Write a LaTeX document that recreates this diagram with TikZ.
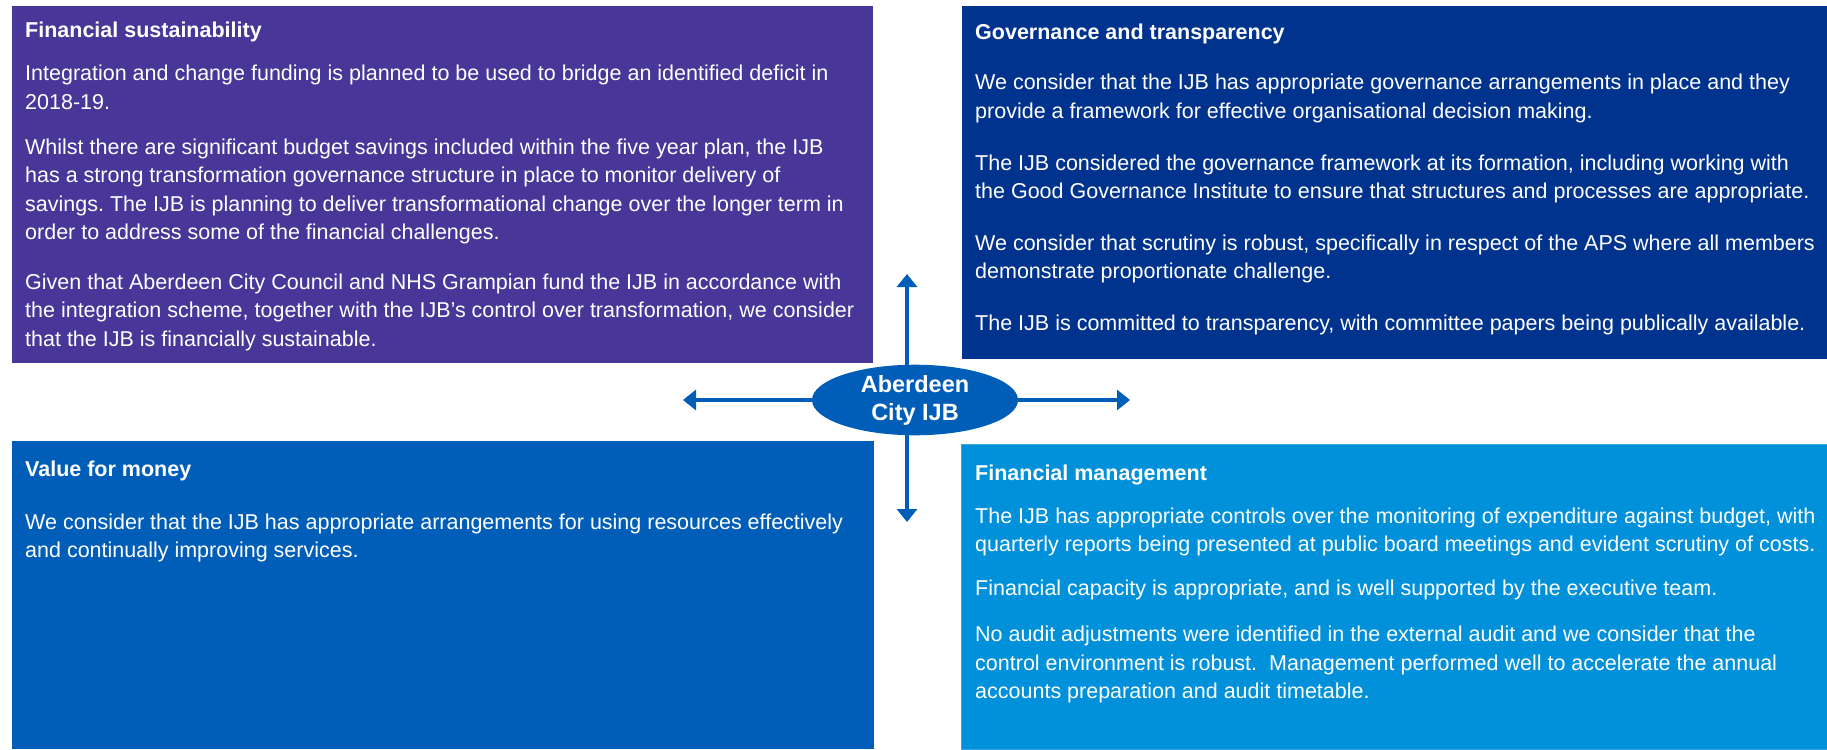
\documentclass[tikz,border=0pt]{standalone}
\usepackage{fontspec}
\setmainfont{Liberation Sans}
\usetikzlibrary{arrows.meta,shapes.geometric}
\frenchspacing

\definecolor{kviolet}{HTML}{483698}
\definecolor{kdark}{HTML}{00338D}
\definecolor{kmedium}{HTML}{005EB8}
\definecolor{klight}{HTML}{0091DA}
\definecolor{klightedge}{HTML}{3AA6E0}

% multi-line text nodes are placed by the baseline of their last line
\tikzset{
  panel/.style={anchor=north west, inner sep=0pt, outer sep=0pt, draw=none},
  headtext/.style={anchor=base west, inner sep=0pt, text=white,
    font=\bfseries\fontsize{21.5}{28.4}\selectfont},
  bodytext/.style={anchor=base west, inner sep=0pt, text=white, align=left,
    font=\fontsize{21.5}{28.4}\selectfont},
  hub/.style={ellipse, fill=kmedium, inner sep=0pt, minimum width=206pt,
    minimum height=70pt, text=white, align=center,
    font=\bfseries\fontsize{23.5}{28}\selectfont},
  spoke/.style={draw=kmedium, line width=4pt,
    -{Triangle[width=20pt,length=13pt]}}
}

\begin{document}
\begin{tikzpicture}[x=1pt,y=-1pt]
\useasboundingbox (0,0) rectangle (1827,749);

% four panels
\node[panel, fill=kviolet, minimum width=861pt, minimum height=357pt] (fs) at (12,6) {};
\node[panel, fill=kdark, minimum width=865pt, minimum height=353pt] (gt) at (962,6) {};
\node[panel, fill=kmedium, minimum width=862pt, minimum height=308pt] (vfm) at (12,441) {};
\node[panel, fill=klight, draw=klightedge, line width=1pt, minimum width=866pt, minimum height=305pt] (fm) at (961.5,444.5) {};

% financial sustainability
\node[headtext] (fsh) at (25,37.7) {Financial sustainability};
\node[bodytext] (fs1) at (25,109.4) {Integration and change funding is planned to be used to bridge an identified deficit in\\2018-19.};
\node[bodytext] (fs2) at (25,239.5) {Whilst there are significant budget savings included within the five year plan, the IJB\\has a strong transformation governance structure in place to monitor delivery of\\savings. The IJB is planning to deliver transformational change over the longer term in\\order to address some of the financial challenges.};
\node[bodytext] (fs3) at (25,346.1) {Given that Aberdeen City Council and NHS Grampian fund the IJB in accordance with\\the integration scheme, together with the IJB’s control over transformation, we consider\\that the IJB is financially sustainable.};

% governance and transparency
\node[headtext] (gth) at (975,40) {Governance and transparency};
\node[bodytext] (gt1) at (975,118.4) {We consider that the IJB has appropriate governance arrangements in place and they\\provide a framework for effective organisational decision making.};
\node[bodytext] (gt2) at (975,198.4) {The IJB considered the governance framework at its formation, including working with\\the Good Governance Institute to ensure that structures and processes are appropriate.};
\node[bodytext] (gt3) at (975,278.4) {We consider that scrutiny is robust, specifically in respect of the APS where all members\\demonstrate proportionate challenge.};
\node[bodytext] (gt4) at (975,330) {The IJB is committed to transparency, with committee papers being publically available.};

% value for money
\node[headtext] (vfmh) at (25,476) {Value for money};
\node[bodytext] (vfm1) at (25,557.4) {We consider that the IJB has appropriate arrangements for using resources effectively\\and continually improving services.};

% financial management
\node[headtext] (fmh) at (975,480) {Financial management};
\node[bodytext] (fm1) at (975,551.4) {The IJB has appropriate controls over the monitoring of expenditure against budget, with\\quarterly reports being presented at public board meetings and evident scrutiny of costs.};
\node[bodytext] (fm2) at (975,595.5) {Financial capacity is appropriate, and is well supported by the executive team.};
\node[bodytext] (fm3) at (975,698.5) {No audit adjustments were identified in the external audit and we consider that the\\control environment is robust.\ \ Management performed well to accelerate the annual\\accounts preparation and audit timetable.};

% centre hub and its four spokes
\node[hub] (ijb) at (915,400) {Aberdeen\\City IJB};
\coordinate (tipU) at (907,274);
\coordinate (tipD) at (907,522);
\coordinate (tipL) at (683,400);
\coordinate (tipR) at (1130,400);
\draw[spoke] (ijb.north -| tipU) -- (tipU);
\draw[spoke] (ijb.south -| tipD) -- (tipD);
\draw[spoke] (ijb.west) -- (tipL);
\draw[spoke] (ijb.east) -- (tipR);
\end{tikzpicture}
\end{document}
